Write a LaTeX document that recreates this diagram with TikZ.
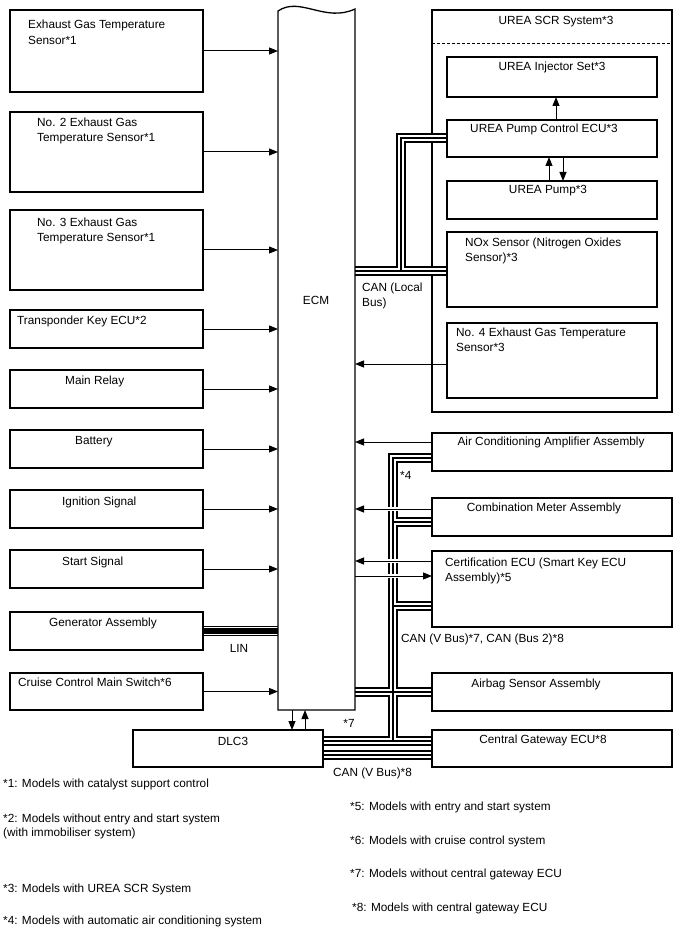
\documentclass[tikz,border=0pt]{standalone}
\usepackage{fontspec}
\setmainfont{Liberation Sans}
\usetikzlibrary{arrows.meta,calc}
\begin{document}
\begin{tikzpicture}[x=1pt,y=-1pt,
  box/.style={draw,line width=1.3pt,anchor=north west,inner sep=0pt,outer sep=0pt},
  txt/.style={inner sep=0pt,text height=8.6pt,text depth=0pt,anchor=west,font=\fontsize{11.8}{14}\selectfont},
  ctxt/.style={txt,anchor=center},
  arr/.style={line width=1pt,-{Triangle[length=9pt,width=7pt]}},
  harr/.style={arr,preaction={draw=white,line width=4.5pt,-}},
]
\useasboundingbox (0,0) rectangle (688,949);

% UREA SCR outer frame
\node[box,minimum width=240pt,minimum height=402pt] (scr) at (432,10) {};
\draw[line width=1pt,dash pattern=on 3pt off 2pt] (scr.west |- 0,44) -- (scr.east |- 0,44);

% invisible ECM body for anchors
\node[inner sep=0pt,outer sep=0pt,minimum width=77pt,minimum height=700pt,anchor=north west] (ecm) at (278,10) {};

% right-side nodes (geometry)
\node[box,minimum width=210pt,minimum height=40pt] (inj) at (447,57) {};
\node[box,minimum width=210pt,minimum height=37pt] (pcu) at (447,120) {};
\node[box,minimum width=210pt,minimum height=38pt] (pump) at (447,181) {};
\node[box,minimum width=210pt,minimum height=75pt] (nox) at (447,232) {};
\node[box,minimum width=210pt,minimum height=75pt] (no4) at (447,323) {};
\node[box,minimum width=240pt,minimum height=38pt] (ac) at (432,433) {};
\node[box,minimum width=240pt,minimum height=38pt] (cmb) at (432,498) {};
\node[box,minimum width=240pt,minimum height=76pt] (cert) at (432,551) {};
\node[box,minimum width=240pt,minimum height=38pt] (air) at (432,673) {};
\node[box,minimum width=240pt,minimum height=37pt] (gw) at (432,730) {};
\node[box,minimum width=190pt,minimum height=37pt] (dlc) at (133,730) {};

% left-side boxes
\node[box,minimum width=193pt,minimum height=82pt] (b1) at (10,10) {};
\node[box,minimum width=193pt,minimum height=80pt] (b2) at (10,112) {};
\node[box,minimum width=193pt,minimum height=80pt] (b3) at (10,210) {};
\node[box,minimum width=193pt,minimum height=38pt] (b4) at (10,310) {};
\node[box,minimum width=193pt,minimum height=38pt] (b5) at (10,370) {};
\node[box,minimum width=193pt,minimum height=38pt] (b6) at (10,430) {};
\node[box,minimum width=193pt,minimum height=38pt] (b7) at (10,490) {};
\node[box,minimum width=193pt,minimum height=38pt] (b8) at (10,550) {};
\node[box,minimum width=193pt,minimum height=38pt] (b9) at (10,612) {};
\node[box,minimum width=193pt,minimum height=37pt] (b10) at (10,673) {};

\coordinate (vb) at (393,0);
\coordinate (lb) at (401,0);

% CAN buses (layered: outer black, white gap, centre line)
\foreach \w/\c in {9.5/black,6/white,2.2/black}{
  \draw[line width=\w pt,\c] (ecm.east |- 0,271) -- (nox.west |- 0,271)
     (lb |- 0,271) |- (pcu.west |- 0,138);
  \draw[line width=\w pt,\c] (ac.west |- 0,458) -| (vb |- 0,741)
     (vb |- 0,522) -- (cmb.west |- 0,522)
     (vb |- 0,606) -- (cert.west |- 0,606)
     (ecm.east |- 0,692) -- (air.west |- 0,692)
     (dlc.east |- 0,741) -- (gw.west |- 0,741)
     (dlc.east |- 0,755) -- (gw.west |- 0,755);
}
% LIN bus
\foreach \w/\c in {10.5/black,7.5/white,5.5/black}{
  \draw[line width=\w pt,\c] (b9.east |- 0,631) -- (ecm.west |- 0,631);
}

% arrows
\foreach \b in {b1,b2,b3,b4,b5,b6,b7,b8,b10}{
  \draw[arr] (\b.east) -- (\b.east -| ecm.west);
}
\draw[arr] (no4.west |- 0,364) -- (ecm.east |- 0,364);
\draw[arr] (ac.west |- 0,442) -- (ecm.east |- 0,442);
\draw[harr] (cmb.west |- 0,509) -- (ecm.east |- 0,509);
\draw[harr] (cert.west |- 0,561) -- (ecm.east |- 0,561);
\draw[harr] (ecm.east |- 0,576) -- (cert.west |- 0,576);
\draw[arr] (pcu.north -| 556,0) -- (inj.south -| 556,0);
\draw[arr] (pump.north -| 549,0) -- (pcu.south -| 549,0);
\draw[arr] (pcu.south -| 563,0) -- (pump.north -| 563,0);
\draw[arr] (ecm.south -| 292,0) -- (dlc.north -| 292,0);
\draw[arr] (dlc.north -| 305,0) -- (ecm.south -| 305,0);

% redraw box borders on top
\foreach \n in {inj,pcu,pump,nox,no4,ac,cmb,cert,air,gw,dlc,b1,b2,b3,b4,b5,b6,b7,b8,b9,b10}{
  \draw[line width=1.3pt] (\n.north west) rectangle (\n.south east);
}
% ECM outline with wavy top
\draw[line width=1.3pt] (ecm.south west) -- (278,11) .. controls (300,-4) and (325,23) .. (355,9) -- (ecm.south east) -- cycle;

% texts
\node[ctxt] (ecmt) at (316,300) {ECM};
\node[txt] (t1a) at (28,24) {Exhaust Gas Temperature};
\node[txt] (t1b) at (28,40) {Sensor*1};
\node[txt] (t2a) at (37,122) {No. 2 Exhaust Gas};
\node[txt] (t2b) at (37,137) {Temperature Sensor*1};
\node[txt] (t3a) at (37,222) {No. 3 Exhaust Gas};
\node[txt] (t3b) at (37,237) {Temperature Sensor*1};
\node[txt] (t4) at (17,320) {Transponder Key ECU*2};
\node[txt] (t5) at (65,380) {Main Relay};
\node[txt] (t6) at (75,440) {Battery};
\node[txt] (t7) at (62,501) {Ignition Signal};
\node[txt] (t8) at (62,561) {Start Signal};
\node[txt] (t9) at (49,622) {Generator Assembly};
\node[txt] (t10) at (18,682) {Cruise Control Main Switch*6};
\node[ctxt] (tlin) at (239,648) {LIN};
\node[ctxt] (tdlc) at (233,741) {DLC3};
\node[ctxt] (t7n) at (349,723) {*7};
\node[txt] (tvb8) at (333,772) {CAN (V Bus)*8};

\node[ctxt] (tscr) at (556,20) {UREA SCR System*3};
\node[ctxt] (tinj) at (552,66) {UREA Injector Set*3};
\node[ctxt] (tpcu) at (544,128) {UREA Pump Control ECU*3};
\node[ctxt] (tpump) at (548,189) {UREA Pump*3};
\node[txt] (tnoxa) at (465,242) {NOx Sensor (Nitrogen Oxides};
\node[txt] (tnoxb) at (465,257) {Sensor)*3};
\node[txt] (tno4a) at (456,332) {No. 4 Exhaust Gas Temperature};
\node[txt] (tno4b) at (456,347) {Sensor*3};
\node[txt] (tcana) at (362,287) {CAN (Local};
\node[txt] (tcanb) at (362,302) {Bus)};

\node[ctxt] (tac) at (551,441) {Air Conditioning Amplifier Assembly};
\node[txt] (t4n) at (400,475) {*4};
\node[ctxt] (tcmb) at (544,507) {Combination Meter Assembly};
\node[txt] (tcerta) at (445,562) {Certification ECU (Smart Key ECU};
\node[txt] (tcertb) at (445,577) {Assembly)*5};
\node[txt] (tvb) at (401,638) {CAN (V Bus)*7, CAN (Bus 2)*8};
\node[ctxt] (tair) at (536,683) {Airbag Sensor Assembly};
\node[ctxt] (tgw) at (543,739) {Central Gateway ECU*8};

% footnotes
\node[txt] (f1) at (3,783) {*1: Models with catalyst support control};
\node[txt] (f2a) at (3,818) {*2: Models without entry and start system};
\node[txt] (f2b) at (3,832) {(with immobiliser system)};
\node[txt] (f3) at (3,888) {*3: Models with UREA SCR System};
\node[txt] (f4) at (3,920) {*4: Models with automatic air conditioning system};
\node[txt] (f5) at (350,806) {*5: Models with entry and start system};
\node[txt] (f6) at (350,840) {*6: Models with cruise control system};
\node[txt] (f7) at (350,873) {*7: Models without central gateway ECU};
\node[txt] (f8) at (352,907) {*8: Models with central gateway ECU};
\end{tikzpicture}
\end{document}
